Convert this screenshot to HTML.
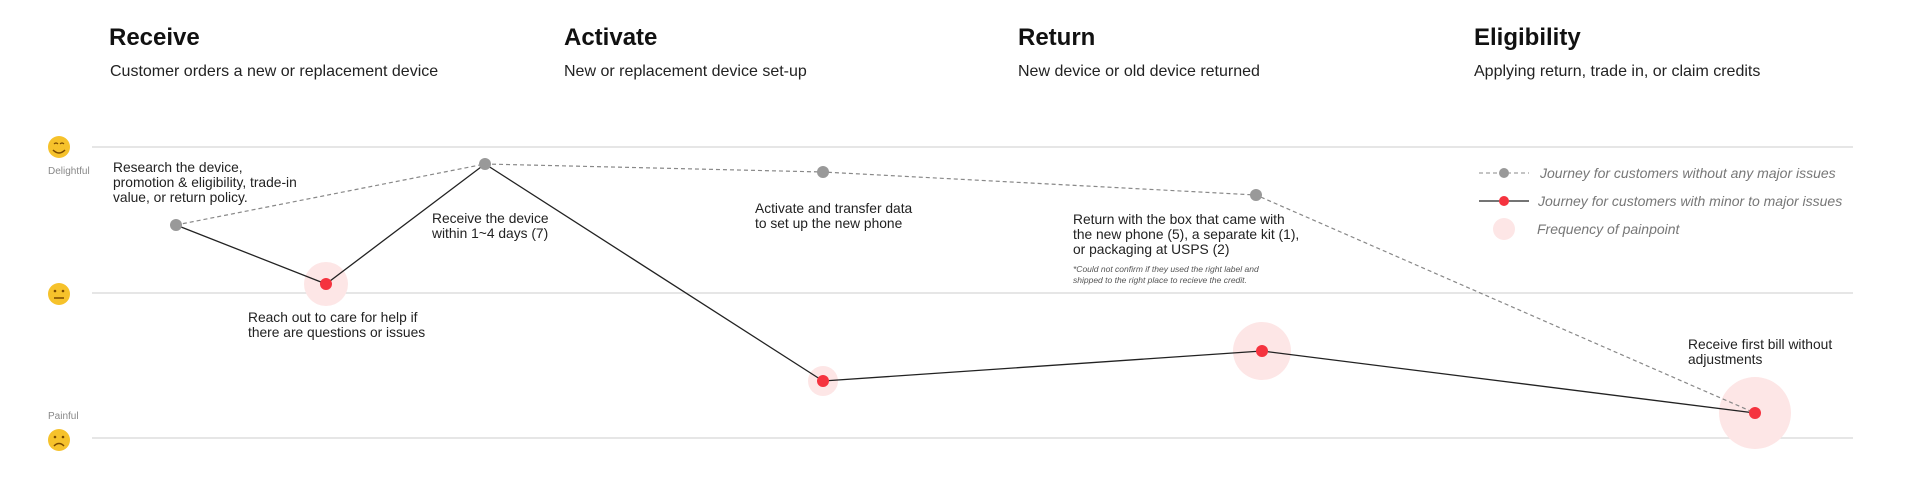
<!DOCTYPE html>
<html><head><meta charset="utf-8"><style>
body{margin:0;width:1914px;height:498px;background:#fff;overflow:hidden;font-family:"Liberation Sans",sans-serif;}
svg text{font-family:"Liberation Sans",sans-serif;}
</style></head><body>
<svg width="1914" height="498" xmlns="http://www.w3.org/2000/svg">
<g font-size="24" font-weight="bold" fill="#111">
<text x="109" y="45">Receive</text><text x="564" y="45">Activate</text><text x="1018" y="45">Return</text><text x="1474" y="45">Eligibility</text>
</g>
<g font-size="16" fill="#222">
<text x="110" y="76">Customer orders a new or replacement device</text>
<text x="564" y="76">New or replacement device set-up</text>
<text x="1018" y="76">New device or old device returned</text>
<text x="1474" y="76">Applying return, trade in, or claim credits</text>
</g>
<g stroke="#ddd" stroke-width="1.5"><line x1="92" y1="147" x2="1853" y2="147"/><line x1="92" y1="293" x2="1853" y2="293"/><line x1="92" y1="438" x2="1853" y2="438"/></g>
<g>
<circle cx="59" cy="147" r="11" fill="#f6c22b"/><path d="M53 150 Q59 156 65 150" stroke="#7a4a00" fill="none" stroke-width="1.5"/><path d="M54 144 q2 -2 4 0 M60 144 q2 -2 4 0" stroke="#7a4a00" fill="none" stroke-width="1.2"/>
<circle cx="59" cy="294" r="11" fill="#f6c22b"/><circle cx="55" cy="291" r="1.3" fill="#7a4a00"/><circle cx="63" cy="291" r="1.3" fill="#7a4a00"/><line x1="54" y1="298" x2="64" y2="298" stroke="#7a4a00" stroke-width="1.5"/>
<circle cx="59" cy="440" r="11" fill="#f6c22b"/><circle cx="55" cy="437" r="1.3" fill="#7a4a00"/><circle cx="63" cy="437" r="1.3" fill="#7a4a00"/><path d="M54 446 Q59 441 64 446" stroke="#7a4a00" fill="none" stroke-width="1.5"/>
</g>
<text x="48" y="174" font-size="10" fill="#888">Delightful</text>
<text x="48" y="419" font-size="10" fill="#888">Painful</text>
<g fill="#fde6e6"><circle cx="326" cy="284" r="22"/><circle cx="823" cy="381" r="15"/><circle cx="1262" cy="351" r="29"/><circle cx="1755" cy="413" r="36"/></g>
<polyline points="176,225 485,164 823,172 1256,195 1755,413" fill="none" stroke="#888" stroke-width="1.2" stroke-dasharray="4,3"/>
<polyline points="176,225 326,284 485,164 823,381 1262,351 1755,413" fill="none" stroke="#222" stroke-width="1.3"/>
<g fill="#999"><circle cx="176" cy="225" r="6"/><circle cx="485" cy="164" r="6"/><circle cx="823" cy="172" r="6"/><circle cx="1256" cy="195" r="6"/></g>
<g fill="#f5333f"><circle cx="326" cy="284" r="6"/><circle cx="823" cy="381" r="6"/><circle cx="1262" cy="351" r="6"/><circle cx="1755" cy="413" r="6"/></g>
<g font-size="13.8" fill="#222">
<text x="113" y="172">Research the device,</text><text x="113" y="187">promotion &amp; eligibility, trade-in</text><text x="113" y="202">value, or return policy.</text>
<text x="432" y="223">Receive the device</text><text x="432" y="238">within 1~4 days (7)</text>
<text x="248" y="322">Reach out to care for help if</text><text x="248" y="337">there are questions or issues</text>
<text x="755" y="213">Activate and transfer data</text><text x="755" y="228">to set up the new phone</text>
<text x="1073" y="224">Return with the box that came with</text><text x="1073" y="239">the new phone (5), a separate kit (1),</text><text x="1073" y="254">or packaging at USPS (2)</text>
<text x="1688" y="349">Receive first bill without</text><text x="1688" y="364">adjustments</text>
</g>
<g font-size="8.5" font-style="italic" fill="#555"><text x="1073" y="272">*Could not confirm if they used the right label and</text><text x="1073" y="283">shipped to the right place to recieve the credit.</text></g>
<line x1="1479" y1="173" x2="1529" y2="173" stroke="#888" stroke-dasharray="4,3"/><circle cx="1504" cy="173" r="5" fill="#999"/>
<line x1="1479" y1="201" x2="1529" y2="201" stroke="#222" stroke-width="1.3"/><circle cx="1504" cy="201" r="5" fill="#f5333f"/>
<circle cx="1504" cy="229" r="11" fill="#fde6e6"/>
<g font-size="14" font-style="italic" fill="#777"><text x="1540" y="178">Journey for customers without any major issues</text><text x="1538" y="206">Journey for customers with minor to major issues</text><text x="1537" y="234">Frequency of painpoint</text></g>
</svg>
</body></html>
